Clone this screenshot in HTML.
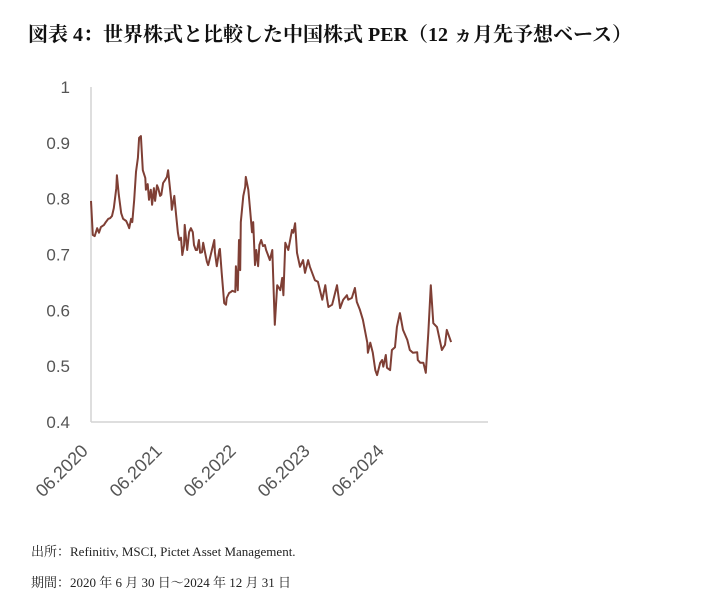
<!DOCTYPE html>
<html><head><meta charset="utf-8"><style>
body{margin:0;background:#fff;width:703px;height:606px;overflow:hidden;font-family:"Liberation Serif","Noto Serif CJK SC",serif}
.t{position:absolute;left:28px;top:18px;font-size:20px;font-weight:bold;color:#111;white-space:nowrap}
.f{position:absolute;left:31px;font-size:13px;color:#222;white-space:nowrap}
</style></head><body>
<div class="t">図表 4：世界株式と比較した中国株式 PER（12 ヵ月先予想ベース）</div>
<svg id="c" width="703" height="606" style="position:absolute;left:0;top:0"></svg>
<div class="f" style="top:541px">出所：Refinitiv, MSCI, Pictet Asset Management.</div>
<div class="f" style="top:572px">期間：2020 年 6 月 30 日～2024 年 12 月 31 日</div>
<script>
const months=[0,0.3,0.6,1.0,1.3,1.6,2.1,2.4,2.8,3.1,3.4,3.7,4.1,4.2,4.5,4.9,5.2,5.7,6.0,6.2,6.5,6.7,7.0,7.3,7.6,7.8,8.1,8.4,8.8,8.9,9.2,9.4,9.7,9.9,10.2,10.4,10.7,10.9,11.2,11.4,11.7,12.0,12.3,12.5,12.7,13.0,13.1,13.5,13.8,14.1,14.3,14.6,14.8,15.1,15.2,15.6,15.9,16.2,16.5,16.7,17.0,17.2,17.5,17.7,18.0,18.2,18.5,18.8,19.0,19.3,19.6,20.0,20.1,20.4,20.8,20.9,21.2,21.6,21.9,22.0,22.4,22.7,22.9,23.4,23.5,23.8,24.0,24.2,24.3,24.7,25.0,25.1,25.5,25.8,26.1,26.3,26.6,26.8,27.1,27.3,27.6,27.9,28.2,28.4,28.7,29.0,29.4,29.8,30.2,30.7,31.0,31.2,31.5,32.0,32.6,32.8,33.1,33.4,33.9,34.4,34.7,35.2,35.5,36.3,36.8,37.5,38.0,38.3,38.5,39.1,39.3,39.9,40.4,40.9,41.5,41.7,42.3,42.8,43.1,43.6,44.1,44.8,44.9,45.3,45.7,46.1,46.4,46.9,47.2,47.4,47.8,48.0,48.5,48.8,49.3,49.6,50.1,50.6,51.3,51.7,52.2,52.9,53.0,53.4,53.9,54.3,54.7,55.1,55.5,56.1,56.9,57.4,57.7,58.4];
const values=[0.796,0.735,0.733,0.747,0.739,0.749,0.753,0.758,0.764,0.765,0.769,0.783,0.819,0.842,0.807,0.774,0.764,0.760,0.753,0.747,0.764,0.758,0.798,0.848,0.873,0.909,0.912,0.851,0.837,0.816,0.826,0.798,0.816,0.789,0.819,0.796,0.824,0.819,0.805,0.807,0.828,0.833,0.839,0.851,0.830,0.798,0.780,0.805,0.771,0.739,0.726,0.730,0.699,0.717,0.753,0.708,0.740,0.747,0.740,0.717,0.708,0.708,0.726,0.703,0.704,0.721,0.703,0.687,0.681,0.694,0.708,0.726,0.704,0.679,0.708,0.710,0.667,0.613,0.610,0.622,0.631,0.633,0.635,0.633,0.679,0.636,0.726,0.672,0.758,0.805,0.821,0.839,0.816,0.780,0.740,0.758,0.681,0.708,0.679,0.717,0.726,0.715,0.717,0.708,0.699,0.690,0.708,0.574,0.645,0.636,0.658,0.627,0.721,0.708,0.744,0.739,0.756,0.703,0.678,0.690,0.667,0.690,0.678,0.654,0.651,0.619,0.645,0.619,0.606,0.610,0.619,0.645,0.604,0.619,0.627,0.619,0.622,0.640,0.615,0.601,0.583,0.542,0.524,0.542,0.524,0.493,0.484,0.506,0.511,0.499,0.520,0.497,0.493,0.529,0.534,0.570,0.595,0.565,0.547,0.529,0.524,0.525,0.511,0.506,0.506,0.488,0.559,0.645,0.577,0.570,0.529,0.538,0.565,0.543];
const yTicks=[0.4,0.5,0.6,0.7,0.8,0.9,1];
const yTickLabels=["0.4","0.5","0.6","0.7","0.8","0.9","1"];
const xTicks=[0,12,24,36,48];
const xTickLabels=["06.2020","06.2021","06.2022","06.2023","06.2024"];
const X=m=>91+m*74/12, Y=v=>87+(1-v)*558.3;
const svg=document.getElementById('c'),NS='http://www.w3.org/2000/svg';
function mk(t,a){const e=document.createElementNS(NS,t);for(const k in a)e.setAttribute(k,a[k]);svg.appendChild(e);return e;}
let e=mk('line',{x1:91,y1:87,x2:91,y2:422,stroke:'#d4d4d4','stroke-width':1.5});


e=mk('line',{x1:91,y1:422,x2:488,y2:422,stroke:'#d4d4d4','stroke-width':1.5});


yTicks.forEach((v,i)=>{const t=mk('text',{x:70,y:Y(v)+6,'text-anchor':'end','font-size':17,fill:'#555','font-family':'Liberation Sans, sans-serif'});t.textContent=yTickLabels[i];

});
xTicks.forEach((m,i)=>{const x=X(m)-2,y=452;const t=mk('text',{x:x,y:y,'text-anchor':'end','font-size':18,fill:'#555','font-family':'Liberation Sans, sans-serif',transform:`rotate(-45 ${x} ${y})`});t.textContent=xTickLabels[i];

});
const p=mk('path',{d:months.map((m,i)=>(i?'L':'M')+X(m).toFixed(1)+','+Y(values[i]).toFixed(1)).join(''),fill:'none',stroke:'#7f3f35','stroke-width':2,'stroke-linejoin':'round'});


</script>
</body></html>
